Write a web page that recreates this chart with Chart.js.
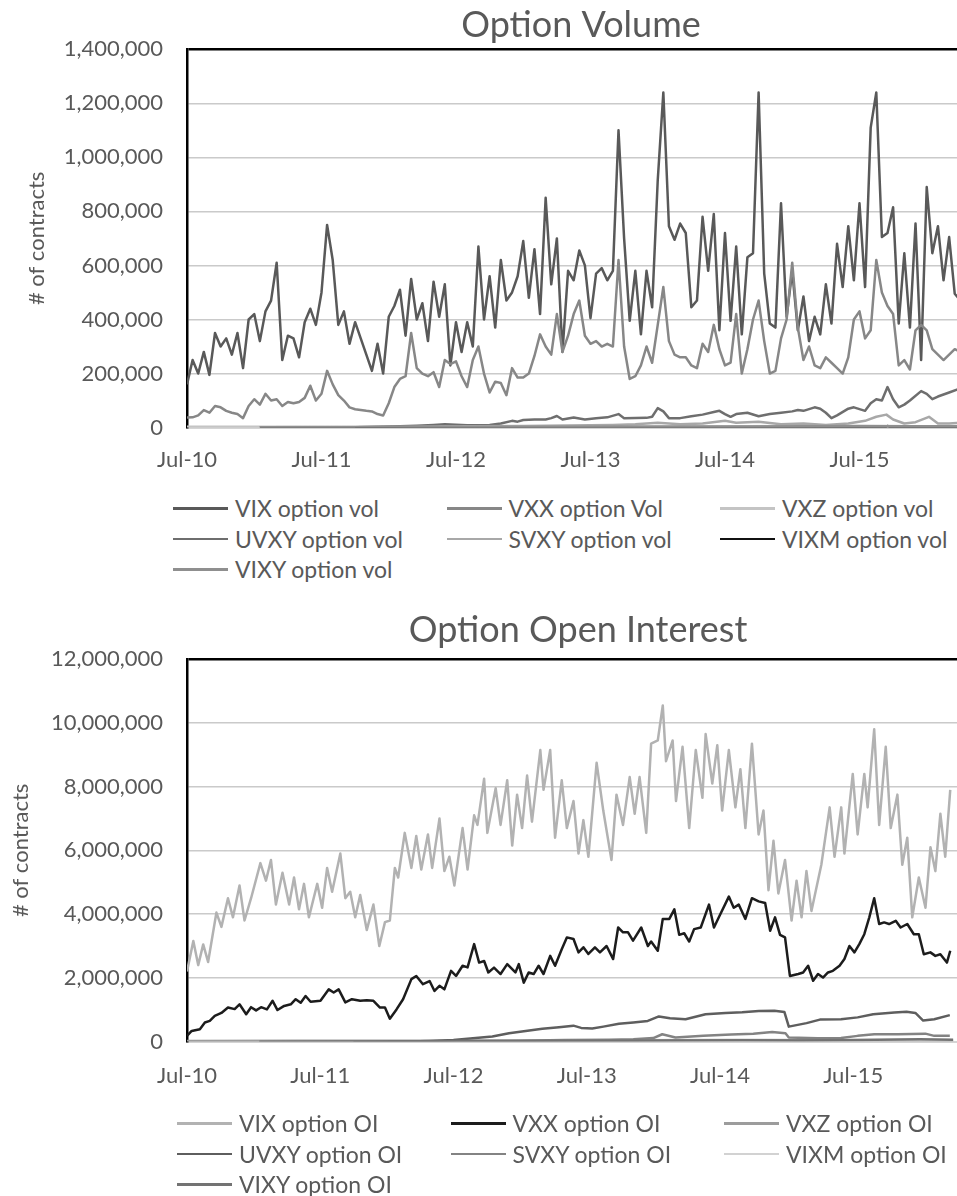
<!DOCTYPE html>
<html>
<head>
<meta charset="utf-8">
<script src="https://cdn.jsdelivr.net/npm/chart.js@4.4.0/dist/chart.umd.min.js"></script>
<style>
  html, body { margin: 0; padding: 0; background: #fff; overflow: hidden; }
  body { width: 957px; height: 1196px; position: relative; font-family: Lato, sans-serif; color: #595959; }
  .box { position: absolute; left: 0; width: 1160px; }
  #volBox { top: 0; height: 492px; }
  #oiBox { top: 598px; height: 512px; }
  .legend { position: absolute; display: grid; grid-template-columns: 273.5px 273.5px 273.5px; font-size: 23px; }
  .legend div { display: flex; align-items: center; height: 30.5px; white-space: nowrap; }
  .legend .ln { display: inline-block; width: 55px; height: 2.5px; margin-right: 7px; }
  #volLegend { top: 493px; left: 173px; }
  #oiLegend { top: 1108px; left: 177px; }
</style>
</head>
<body>
<div class="box" id="volBox"><canvas id="volChart"></canvas></div>
<div class="legend" id="volLegend"></div>
<div class="box" id="oiBox"><canvas id="oiChart"></canvas></div>
<div class="legend" id="oiLegend"></div>
<script>
// x positions are months since Jul-2010, values in thousands of contracts
const volMonths = Array.from({ length: 139 }, (_, i) => i / 2); // half-month steps

const vixVol = [
  160, 250, 200, 280, 195, 350, 300, 330, 270, 350,
  220, 400, 420, 320, 430, 470, 610, 250, 340, 330,
  260, 390, 440, 380, 500, 750, 620, 380, 430, 310,
  390, 330, 270, 210, 310, 200, 410, 450, 510, 340,
  550, 400, 460, 320, 540, 410, 530, 230, 390, 280,
  390, 300, 670, 400, 560, 370, 620, 470, 500, 560,
  690, 480, 660, 420, 850, 530, 700, 280, 580, 545,
  655, 600, 405, 570, 590, 545, 580, 1100, 700, 395,
  580, 345, 580, 445, 915, 1240, 745, 695, 755, 720,
  445, 470, 780, 580, 790, 360, 720, 395, 670, 345,
  630, 645, 1240, 570, 385, 370, 830, 410, 580, 360,
  485, 320, 410, 345, 530, 385, 680, 520, 745, 545,
  830, 520, 1110, 1240, 705, 720, 815, 385, 645, 370,
  755, 250, 890, 645, 745, 545, 705, 495, 470
];
const vxxVol = [
  37, 38, 45, 65, 55, 80, 75, 62, 55, 50,
  35, 80, 105, 85, 125, 100, 105, 80, 95, 90,
  95, 110, 155, 100, 125, 210, 160, 120, 100, 75,
  68, 65, 62, 60, 50, 45, 90, 150, 180, 190,
  350, 220, 200, 190, 205, 150, 250, 235, 245, 190,
  150, 250, 300, 200, 130, 170, 165, 120, 220, 185,
  185, 200, 265, 345, 300, 270, 420, 280, 340, 420,
  470, 340, 310, 320, 300, 310, 300, 620, 300, 180,
  190, 230, 300, 240, 380, 520, 320, 270, 260, 260,
  230, 220, 310, 280, 380, 290, 230, 240, 420, 200,
  290, 400, 470, 320, 200, 210, 330, 400, 610, 370,
  250, 300, 230, 220, 260, 240, 220, 200, 260, 400,
  430, 330, 360, 620, 500, 450, 420, 230, 250, 215,
  360, 380, 360, 290, 270, 250, 270, 290, 280
];

const vxzVolMonths = [0, 10, 20, 30, 40, 50, 55, 60, 65, 69];
const vxzVol = [3, 3, 2, 3, 4, 5, 6, 5, 4, 4];

const uvxyVolMonths = [15, 17, 19, 20.5, 22, 23, 25, 27, 28, 29, 29.5, 30, 31, 32, 32.5, 33, 33.5, 34.5, 35.5, 36.5,
  37.5, 38.5, 39, 41, 41.5, 42, 42.5, 43, 44, 45, 46, 47, 47.5, 48, 48.5, 49, 50, 51, 52, 53,
  54, 54.5, 55, 56, 56.5, 57, 57.5, 58, 59, 59.5, 60.5, 61, 61.5, 62, 62.5, 63, 63.5, 64, 64.5, 65.5,
  66, 66.5, 67, 68, 69];
const uvxyVol = [1, 3, 5, 7, 10, 12, 9, 10, 15, 25, 22, 28, 30, 30, 35, 43, 30, 37, 30, 35,
  38, 50, 35, 36, 40, 72, 60, 35, 35, 42, 48, 58, 62, 50, 40, 50, 55, 42, 50, 55,
  60, 65, 62, 75, 70, 55, 35, 45, 70, 75, 62, 90, 105, 100, 150, 105, 75, 85, 100, 135,
  125, 105, 115, 130, 145];

const svxyVolMonths = [15, 20, 25, 30, 34, 38, 40, 42, 44, 46, 48, 49, 51, 53, 55, 57, 59, 60.5, 61.5, 62.4,
  63, 64, 65, 66.2, 67, 68, 69];
const svxyVol = [1, 3, 5, 6, 8, 10, 12, 18, 12, 15, 25, 18, 22, 12, 15, 10, 15, 25, 40, 48,
  30, 15, 20, 40, 15, 15, 18];

const vixmVolMonths = [6.5, 20, 40, 60, 62.3, 62.5, 62.8, 66.1, 66.3, 66.5, 69];
const vixmVol = [0, 1, 1, 1, 1, 6, 1, 1, 5, 1, 1];

const vixyVolMonths = [6.5, 20, 35, 50, 60, 65, 69];
const vixyVol = [1, 2, 3, 4, 6, 5, 5];

// open interest, thousands of contracts
const vixOiMonths = [0, 0.57, 1.01, 1.46, 1.9, 2.65, 3.1, 3.69, 4.14, 4.73, 5.18, 5.77, 6.61, 7.11, 7.56,
  8.01, 8.6, 9.2, 9.64, 10.09, 10.54, 10.98, 11.73, 12.17, 12.62, 13.07, 13.81, 14.26, 14.7, 15.15,
  15.6, 16.19, 16.79, 17.32, 17.83, 18.27, 18.72, 19.02, 19.61, 20.21, 20.65, 21.1, 21.7, 22.08, 22.74,
  23.18, 23.63, 24.08, 24.82, 25.27, 25.86, 26.16, 26.76, 27.05, 27.8, 28.24, 28.84, 29.29, 29.73, 30.18,
  30.63, 31.07, 31.82, 32.11, 32.71, 33.15, 33.75,
  34.21, 34.81, 35.26, 35.7, 36.15, 36.89, 37.49, 38.23, 38.68, 39.27, 39.87, 40.32, 40.76, 41.36, 41.8,
  42.4, 42.85, 43.14, 43.74, 44.04, 44.63, 45.23, 45.82, 46.42, 46.71, 47.31, 47.76, 48.2, 48.8, 49.39,
  49.84, 50.29, 50.88, 51.48, 51.92, 52.37, 52.82, 53.26, 53.86, 54.45, 54.9, 55.35, 55.79, 56.24, 57.13,
  57.88, 58.32, 58.92, 59.21, 59.96, 60.4, 61, 61.3, 61.89, 62.34, 62.93, 63.38, 63.98, 64.42, 64.87,
  65.32, 65.91, 66.51, 66.96, 67.4, 67.85, 68.29, 68.74];
const vixOi = [2200, 3160, 2400, 3050, 2500, 4050, 3600, 4500, 3900, 4900, 3800, 4500, 5600, 5050, 5700,
  4300, 5300, 4300, 5150, 4150, 4950, 3900, 4950, 4200, 5450, 4700, 5900, 4500, 4700, 3900,
  4600, 3500, 4300, 3000, 3750, 3800, 5450, 5150, 6550, 5450, 6450, 5400, 6500, 5450, 7000,
  5350, 5800, 4900, 6700, 5400, 7100, 6800, 8250, 6550, 7950, 6800, 8200, 6150, 7750, 6700,
  8350, 6900, 9150, 7900, 9150, 6400, 8200,
  6700, 7550, 5900, 6950, 5800, 8750, 7250, 5700, 7750, 6800, 8300, 7150, 8300, 6550, 9350,
  9450, 10550, 8800, 9450, 7550, 9250, 6700, 9150, 7650, 9650, 8100, 9300, 7250, 9150, 7350,
  8550, 6700, 9350, 6500, 7250, 4750, 6300, 4650, 5700, 3800, 5050, 3900, 5350, 4100, 5550,
  7350, 5800, 7350, 5900, 8400, 6500, 8400, 7350, 9800, 6800, 9250, 6700, 7750, 5550, 6400,
  3900, 5150, 4200, 6100, 5350, 7150, 5800, 7900];

const vxxOiMonths = [0, 0.42, 1.16, 1.61, 2.05, 2.5, 3.1, 3.69, 4.29, 4.73, 5.33, 5.77, 6.22, 6.67, 7.2,
  7.71, 8.15, 8.75, 9.35, 9.79, 10.24, 10.68, 11.13, 12.02, 12.77, 13.21, 13.66, 14.26, 14.85, 15.6,
  16.19, 16.79, 17.38, 17.83, 18.27, 18.87, 19.46, 20.21, 20.65, 21.25, 21.85, 22.29, 22.74, 23.18, 23.78,
  24.23, 24.82, 25.27, 25.86, 26.31, 26.76, 27.14, 27.65, 28.24, 28.84, 29.58, 29.88, 30.33, 30.77, 31.22,
  31.67, 32.11, 32.71, 33.15, 33.75,
  34.21, 34.81, 35.26, 35.7, 36.15, 36.74, 37.19, 37.79, 38.38, 38.83, 39.27, 39.72, 40.17, 40.91, 41.51,
  41.8, 42.4, 42.85, 43.44, 43.89, 44.33, 44.78, 45.23, 45.67, 46.27, 47.01, 47.46, 47.9, 48.8, 49.24,
  49.69, 50.29, 50.88, 51.48, 52.07, 52.52, 52.96, 53.41, 53.86, 54.3, 55.05, 55.49, 55.94, 56.39, 56.83,
  57.28, 57.73, 58.17, 58.77, 59.21, 59.66, 60.11, 60.55, 61, 61.45, 61.89, 62.34, 62.79, 63.23, 63.83,
  64.27, 64.87, 65.46, 65.91, 66.36, 66.95, 67.4, 67.85, 68.44, 68.74];
const vxxOi = [180, 335, 390, 600, 650, 805, 900, 1070, 1020, 1170, 860, 1080, 980, 1080, 1010,
  1280, 990, 1120, 1170, 1330, 1220, 1430, 1250, 1280, 1640, 1540, 1640, 1230, 1330, 1280,
  1300, 1280, 1070, 1070, 720, 1010, 1330, 1960, 2060, 1800, 1900, 1590, 1750, 1640, 2220,
  2060, 2380, 2330, 3060, 2480, 2530, 2170, 2320, 2120, 2430, 2170, 2430, 1850, 2170, 2120,
  2380, 2120, 2690, 2380, 2900,
  3270, 3220, 2800, 2960, 2750, 2960, 2800, 3000, 2590, 3580, 3430, 3430, 3170, 3580, 3000,
  3140, 2850, 3850, 3850, 4150, 3350, 3400, 3140, 3530, 3580, 4300, 3580, 3900, 4550, 4200,
  4300, 3850, 4500, 4400, 4350, 3480, 3900, 3350, 3270, 2060, 2120, 2170, 2380, 1910, 2120,
  2010, 2170, 2220, 2380, 2590, 3000, 2800, 3060, 3370, 3900, 4500, 3690, 3740, 3690, 3790,
  3580, 3690, 3370, 3370, 2740, 2800, 2690, 2740, 2480, 2850];

const vxzOiMonths = [0, 10, 20, 30, 40, 50, 60, 69];
const vxzOi = [20, 30, 25, 30, 40, 50, 40, 35];

const uvxyOiMonths = [15, 20, 22, 24, 26, 27.5, 29, 30.5, 32, 33.5, 34.8, 35.5, 36.5, 37.5, 38.9, 40.2, 41.5, 42.5, 43.5, 44.9,
  46.7, 48.5, 50, 51.5, 52.9, 53.8, 54.2, 55.8, 57, 58.9, 60.4, 61.8, 63.7, 64.8, 65.6, 66.3, 67.3, 68.7];
const uvxyOi = [0, 5, 20, 50, 110, 160, 260, 330, 400, 450, 500, 430, 410, 470, 560, 600, 650, 790, 730, 700,
  860, 900, 920, 960, 970, 930, 470, 580, 690, 700, 760, 860, 910, 940, 900, 660, 700, 830];

const svxyOiMonths = [15, 20, 25, 30, 34, 38, 40.2, 42, 42.8, 44, 46.5, 49, 51, 52.7, 53.9, 54.2, 56.8, 58.9, 60.4, 61.9,
  64, 66.5, 67.3, 68.7];
const svxyOi = [0, 5, 15, 30, 50, 60, 75, 110, 230, 130, 180, 220, 250, 300, 260, 130, 105, 110, 180, 230,
  230, 250, 180, 180];

const vixmOiMonths = [6.5, 30, 50, 69];
const vixmOi = [0, 5, 8, 8];

const vixyOiMonths = [6.5, 20, 30, 40, 50, 55, 60, 66, 69];
const vixyOi = [5, 10, 20, 30, 40, 35, 50, 70, 60];

const xLabels = ['Jul-10', 'Jul-11', 'Jul-12', 'Jul-13', 'Jul-14', 'Jul-15'];

function pts(xs, ys) {
  return xs.map((x, i) => ({ x: x, y: ys[i] * 1000 }));
}

function line(label, xs, ys, color, idx) {
  return {
    label: label,
    data: pts(xs, ys),
    borderColor: color,
    backgroundColor: color,
    borderWidth: 2.5,
    borderJoinStyle: 'round',
    pointRadius: 0,
    tension: 0,
    fill: false,
    order: 10 - idx // later series drawn on top, like Excel
  };
}

const txt = '#595959';
const fam = 'Lato';

function makeChart(id, title, datasets, o) {
  return new Chart(document.getElementById(id), {
    type: 'line',
    data: { datasets: datasets },
    options: {
      responsive: true,
      maintainAspectRatio: false,
      animation: false,
      events: [],
      layout: { padding: { left: o.padLeft, right: o.padRight, top: 0, bottom: 0 } },
      plugins: {
        legend: { display: false },
        tooltip: { enabled: false },
        title: {
          display: true,
          text: title,
          color: txt,
          font: { family: fam, size: 36, weight: 'normal' },
          padding: { top: o.titleTop, bottom: o.titleBottom }
        }
      },
      scales: {
        x: {
          type: 'linear',
          min: 0,
          max: o.xMax,
          grid: { display: false, drawTicks: false },
          border: { display: true, color: '#d4d4d4', width: 2 },
          ticks: {
            stepSize: 12,
            autoSkip: false,
            maxRotation: 0,
            padding: o.xPad,
            color: txt,
            font: { family: fam, size: 22 },
            callback: v => (v % 12 === 0 && v / 12 < xLabels.length) ? xLabels[v / 12] : ''
          }
        },
        y: {
          min: 0,
          max: o.yMax,
          afterFit: s => { s.width = 187 - o.padLeft; },
          grid: {
            drawTicks: false,
            color: c => c.tick.value === o.yMax ? '#000000' : '#cacaca',
            lineWidth: c => c.tick.value === o.yMax ? 2.5 : 1.5
          },
          border: { display: true, color: '#000000', width: 2.5 },
          title: {
            display: true,
            text: '# of contracts',
            color: txt,
            font: { family: fam, size: 22 },
            padding: 0
          },
          ticks: {
            stepSize: o.yStep,
            padding: 24,
            color: txt,
            font: { family: fam, size: 22 },
            callback: v => v.toLocaleString('en-US')
          }
        }
      }
    }
  });
}

function buildLegend(chart, id) {
  const el = document.getElementById(id);
  chart.data.datasets.forEach(ds => {
    const item = document.createElement('div');
    const sw = document.createElement('span');
    sw.className = 'ln';
    sw.style.background = ds.borderColor;
    item.appendChild(sw);
    item.appendChild(document.createTextNode(ds.label));
    el.appendChild(item);
  });
}

const volChart = makeChart('volChart', 'Option Volume', [
  line('VIX option vol', volMonths, vixVol, '#595959', 0),
  line('VXX option Vol', volMonths, vxxVol, '#878787', 1),
  line('VXZ option vol', vxzVolMonths, vxzVol, '#c4c4c4', 2),
  line('UVXY option vol', uvxyVolMonths, uvxyVol, '#6e6e6e', 3),
  line('SVXY option vol', svxyVolMonths, svxyVol, '#a8a8a8', 4),
  line('VIXM option vol', vixmVolMonths, vixmVol, '#111111', 5),
  line('VIXY option vol', vixyVolMonths, vixyVol, '#8f8f8f', 6)
], { padLeft: 24, padRight: 22, titleTop: 4, titleBottom: 2, xPad: 19, xMax: 84.85, yMax: 1400000, yStep: 200000 });

const oiChart = makeChart('oiChart', 'Option Open Interest', [
  line('VIX option OI', vixOiMonths, vixOi, '#b2b2b2', 0),
  line('VXX option OI', vxxOiMonths, vxxOi, '#1c1c1c', 1),
  line('VXZ option OI', vxzOiMonths, vxzOi, '#9c9c9c', 2),
  line('UVXY option OI', uvxyOiMonths, uvxyOi, '#5e5e5e', 3),
  line('SVXY option OI', svxyOiMonths, svxyOi, '#838383', 4),
  line('VIXM option OI', vixmOiMonths, vixmOi, '#d2d2d2', 5),
  line('VIXY option OI', vixyOiMonths, vixyOi, '#737373', 6)
], { padLeft: 8, padRight: 12, titleTop: 11, titleBottom: 7, xPad: 21, xMax: 85.74, yMax: 12000000, yStep: 2000000 });

buildLegend(volChart, 'volLegend');
buildLegend(oiChart, 'oiLegend');
</script>
</body>
</html>
